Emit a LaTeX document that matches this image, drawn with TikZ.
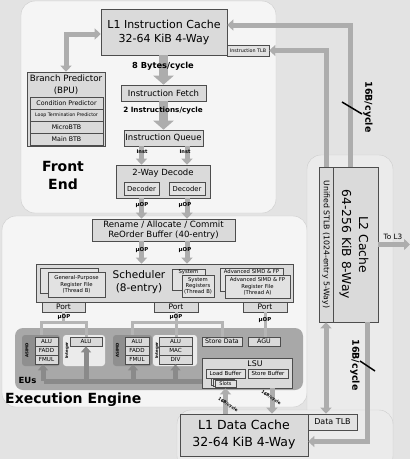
\documentclass[tikz,border=0pt]{standalone}
\usepackage{fontspec}
\setmainfont{DejaVu Sans}
\usetikzlibrary{arrows.meta,calc}
\definecolor{bgc}{HTML}{E3E3E3}
\definecolor{panel}{HTML}{F5F5F5}
\definecolor{rpanel}{HTML}{EBEBEB}
\definecolor{panelln}{HTML}{CCCCCC}
\definecolor{boxf}{HTML}{DADADA}
\definecolor{rff}{HTML}{E2E2E2}
\definecolor{boxd}{HTML}{4D4D4D}
\definecolor{arr}{HTML}{ADADAD}
\definecolor{brk}{HTML}{B5B5B5}
\definecolor{eup}{HTML}{A8A8A8}
\definecolor{asimdp}{HTML}{8F8F8F}
\definecolor{intp}{HTML}{EBEBEB}
\definecolor{busc}{HTML}{8A8A8A}
\newcommand\fsz[2]{\fontsize{#1}{#2}\selectfont}
\begin{document}
\begin{tikzpicture}[x=1pt,y=-1pt,
 box/.style={draw=boxd, fill=boxf, line width=0.6pt, inner sep=0pt, align=center},
 rfbox/.style={box, fill=rff, font=\fsz{5.3}{6.3}},
 unit/.style={box, minimum height=9pt, font=\fsz{5.6}{6}},
 grp/.style={inner sep=0pt, rounded corners=3pt},
 txt/.style={inner sep=0pt, align=center},
 lbl/.style={txt, font=\bfseries\fsz{5.4}{6}},
 bigarrow/.style={draw=arr, line width=9pt, -{Triangle[width=20pt,length=9pt]}},
 midarrow/.style={draw=arr, line width=5pt, -{Triangle[width=11pt,length=6pt]}},
 dblarrow/.style={draw=arr, line width=5pt, {Triangle[width=11pt,length=6pt]}-{Triangle[width=11pt,length=6pt]}},
 bline/.style={draw=brk, line width=3pt},
 busline/.style={draw=busc, line width=5pt},
 busarrow/.style={draw=busc, line width=5pt, -{Triangle[width=10pt,length=6pt]}},
 slash/.style={draw=black, line width=1.5pt},
]
\useasboundingbox (0,0) rectangle (410,459);
% background and panels
\fill[bgc] (0,0) rectangle (410,459);
\draw[panelln, fill=panel, rounded corners=14pt] (21,1) rectangle (276,213);
\draw[panelln, fill=panel, rounded corners=14pt] (2,216) rectangle (307,407);
\draw[panelln, fill=rpanel, rounded corners=14pt] (307,155) rectangle (393,452);
\draw[panelln, fill=rpanel, rounded corners=14pt] (177,410) rectangle (393,470);

% ---------------- Front end ----------------
\node[box, minimum width=126pt, minimum height=46pt, font=\fsz{11}{14}] (l1i) at (164,32) {L1 Instruction Cache\\32-64 KiB 4-Way};
\node[box, fill=rff, minimum width=42pt, minimum height=11pt, font=\fsz{4.8}{5}] (itlb) at (248,50.5) {Instruction TLB};

\node[box, minimum width=78pt, minimum height=74pt] (bpu) at (66,109) {};
\node[txt, font=\fsz{8.7}{12}] (bput) at (66,85) {Branch Predictor\\(BPU)};
\node[box, minimum width=73pt, minimum height=12pt, font=\fsz{6.3}{7}] (cp) at (66.5,103) {Condition Predictor};
\node[box, minimum width=73pt, minimum height=12pt, font=\fsz{4.7}{5}] (ltp) at (66.5,115) {Loop Termination Predictor};
\node[box, minimum width=73pt, minimum height=12pt, font=\fsz{6.3}{7}] (mbtb) at (66.5,127) {MicroBTB};
\node[box, minimum width=73pt, minimum height=12pt, font=\fsz{6.3}{7}] (mainbtb) at (66.5,139) {Main BTB};

\node[box, minimum width=85pt, minimum height=16pt, font=\fsz{8.5}{10}] (ifetch) at (163.5,93) {Instruction Fetch};
\node[box, minimum width=79pt, minimum height=16pt, font=\fsz{8.5}{10}] (iq) at (163.5,138) {Instruction Queue};
\node[box, minimum width=94pt, minimum height=33pt] (dec) at (163,181.5) {};
\node[txt, font=\fsz{8.5}{10}] (dect) at (163,173.5) {2-Way Decode};
\node[box, fill=rff, minimum width=35pt, minimum height=13pt, font=\fsz{6.8}{8}] (d1) at (141.5,188.5) {Decoder};
\node[box, fill=rff, minimum width=36pt, minimum height=13pt, font=\fsz{6.8}{8}] (d2) at (187,188.5) {Decoder};
\node[txt, font=\bfseries\fsz{14}{18}] (fe) at (63,175) {Front\\End};

% ---------------- Execution engine ----------------
\node[box, minimum width=143pt, minimum height=22pt, font=\fsz{8.6}{10.5}] (ren) at (163.5,230) {Rename / Allocate / Commit\\ReOrder Buffer (40-entry)};
\node[box, minimum width=257pt, minimum height=38pt] (sch) at (164.5,283) {};
\node[txt, font=\fsz{10.5}{13}] (scht) at (139,282.5) {Scheduler\\(8-entry)};
\node[rfbox, minimum width=58pt, minimum height=25pt] (gpa) at (69,280.5) {};
\node[rfbox, minimum width=57pt, minimum height=25pt] (gpb) at (76.5,284.5) {General-Purpose\\Register File\\(Thread B)};
\node[rfbox, minimum width=33pt, minimum height=21pt] (sysa) at (188.5,279.5) {};
\node[txt, font=\fsz{5.3}{6.3}] (sysat) at (188.5,272) {System};
\node[rfbox, minimum width=32pt, minimum height=22pt] (sysb) at (198,286) {System\\Registers\\(Thread B)};
\node[rfbox, minimum width=63pt, minimum height=23pt] (simdb) at (251.5,279.5) {};
\node[txt, font=\fsz{5.3}{6.3}] (simdbt) at (251.5,271.5) {Advanced SIMD \& FP};
\node[rfbox, minimum width=65pt, minimum height=23pt] (simda) at (257.5,286.5) {Advanced SIMD \& FP\\Register File\\(Thread A)};

\node[box, minimum width=43pt, minimum height=10pt, font=\fsz{7.5}{8}] (p1) at (63.5,307) {Port};
\node[box, minimum width=44pt, minimum height=10pt, font=\fsz{7.5}{8}] (p2) at (176,307) {Port};
\node[box, minimum width=44pt, minimum height=10pt, font=\fsz{7.5}{8}] (p3) at (265,307) {Port};

% EU panel
\node[fill=eup, rounded corners=8pt, inner sep=0pt, minimum width=288pt, minimum height=62pt] (eus) at (159,359) {};
\node[grp, fill=asimdp, minimum width=38pt, minimum height=31pt] (g1) at (41,350.5) {};
\node[grp, fill=intp, minimum width=42pt, minimum height=31pt] (g2) at (84,350.5) {};
\node[grp, fill=asimdp, minimum width=39pt, minimum height=31pt] (g3) at (132.5,350.5) {};
\node[grp, fill=intp, minimum width=44pt, minimum height=31pt] (g4) at (175,350.5) {};
\node[txt, rotate=90, font=\bfseries\fsz{4}{4}] (g1t) at (27,350.5) {ASIMD};
\node[txt, rotate=90, font=\bfseries\fsz{4}{4}] (g2t) at (67,350.5) {Integer};
\node[txt, rotate=90, font=\bfseries\fsz{4}{4}] (g3t) at (117.5,350.5) {ASIMD};
\node[txt, rotate=90, font=\bfseries\fsz{4}{4}] (g4t) at (157,350.5) {Integer};

\node[unit, minimum width=23pt] (alu1) at (46.5,341.5) {ALU};
\node[unit, minimum width=23pt] (fadd1) at (46.5,350.5) {FADD};
\node[unit, minimum width=23pt] (fmul1) at (46.5,359.5) {FMUL};
\node[unit, minimum width=32pt] (ialu1) at (86,341.5) {ALU};
\node[unit, minimum width=24pt] (alu3) at (137,341.5) {ALU};
\node[unit, minimum width=24pt] (fadd3) at (137,350.5) {FADD};
\node[unit, minimum width=24pt] (fmul3) at (137,359.5) {FMUL};
\node[unit, minimum width=33pt] (ialu4) at (175.5,341.5) {ALU};
\node[unit, minimum width=33pt] (mac4) at (175.5,350.5) {MAC};
\node[unit, minimum width=33pt] (div4) at (175.5,359.5) {DIV};
\node[unit, minimum width=40pt, font=\fsz{6.3}{7}] (sd) at (222,341.5) {Store Data};
\node[unit, minimum width=32pt, font=\fsz{6.3}{7}] (agu) at (264,341.5) {AGU};

\node[box, minimum width=90pt, minimum height=30pt] (lsu) at (247,373) {};
\node[txt, font=\fsz{7.8}{8}] (lsut) at (255,363.5) {LSU};
\node[box, fill=rff, minimum width=39pt, minimum height=9pt, font=\fsz{5.5}{6}] (lb) at (225.5,373.5) {Load Buffer};
\node[box, fill=rff, minimum width=40pt, minimum height=9pt, font=\fsz{5.5}{6}] (sb) at (268,373.5) {Store Buffer};
\node[box, fill=rff, minimum width=21pt, minimum height=7pt] (slc) at (221.5,381.5) {};
\node[box, fill=rff, minimum width=21pt, minimum height=7pt] (slb) at (223.5,382.5) {};
\node[box, fill=rff, minimum width=21pt, minimum height=7pt, font=\fsz{5}{5}] (sla) at (225.5,383.5) {Slots};
\node[txt, font=\bfseries\fsz{8.5}{9}] (eut) at (27.5,380.5) {EUs};
\node[txt, anchor=west, font=\bfseries\fsz{14}{16}] (ee) at (5,400) {Execution Engine};

% ---------------- L2 / L1D ----------------
\node[box, minimum width=45pt, minimum height=155pt] (l2) at (355.5,244.5) {};
\node[box, minimum width=14pt, minimum height=155pt] (stlb) at (326,244.5) {};
\node[txt, rotate=-90, font=\fsz{12.3}{17}] (l2t) at (354,244.5) {L2 Cache\\64-256 KiB 8-Way};
\node[txt, rotate=-90, font=\fsz{7.8}{9}] (stlbt) at (326,244.5) {Unified STLB (1024-entry 5-Way)};
\node[box, fill=rff, minimum width=49pt, minimum height=16pt, font=\fsz{8}{9}] (dtlb) at (332.5,422) {Data TLB};
\node[box, minimum width=128pt, minimum height=42pt, font=\fsz{12.5}{17}] (l1d) at (244,435) {L1 Data Cache\\32-64 KiB 4-Way};
\coordinate (tol3) at (410,244.5);

% ---------------- connectors ----------------
\draw[bigarrow] (l1i.south -| ifetch.north) -- (ifetch.north);
\draw[bigarrow] (ifetch.south) -- (iq.north);
\draw[midarrow] (iq.south -| d1.north) -- (dec.north -| d1.north);
\draw[midarrow] (iq.south -| d2.north) -- (dec.north -| d2.north);
\draw[midarrow] (dec.south -| d1.north) -- (ren.north -| d1.north);
\draw[midarrow] (dec.south -| d2.north) -- (ren.north -| d2.north);
\draw[midarrow] (ren.south -| d1.north) -- (sch.north -| d1.north);
\draw[midarrow] (ren.south -| d2.north) -- (sch.north -| d2.north);
\draw[dblarrow] (bpu.north) |- ([yshift=-2pt]l1i.west);
\draw[midarrow] ([xshift=-5.5pt]l2.north) |- ([yshift=7pt]l1i.east);
\draw[midarrow] (stlb.north) |- (itlb.east);
\draw[midarrow] ([xshift=11.5pt]l2.south) |- ([yshift=-6.5pt]l1d.east);
\draw[dblarrow] (stlb.south) -- (stlb.south |- dtlb.north);
\draw[midarrow] (l2.east) -- (tol3);
\draw[midarrow] (l1d.north -| lb.south) -- (lsu.south -| lb.south);
\draw[midarrow] ([xshift=4pt]lsu.south -| sb.south) -- ([xshift=4pt]l1d.north -| sb.south);

% issue tree
\draw[bline] (p1.south) -- (p1.south |- 0,323);
\draw[bline] (g1.north) -- ++(0,-12) -| (ialu1.north);
\draw[bline] (p2.south) -- (p2.south |- ialu4.north);
\draw[bline] (g3.north) -- ++(0,-12) -| (sd.north);
\draw[bline] (p3.south) -- (p3.south |- agu.north);
% result bus
\coordinate (busr) at (lsu.west |- 0,381);
\draw[busline] (busr) -- ([xshift=-2.5pt]fmul1.south |- busr);
\draw[busarrow] ([xshift=-3.5pt]fmul1.south |- busr) -- ([xshift=-3.5pt]fmul1.south);
\draw[busarrow] (ialu1.south |- busr) -- (ialu1.south);
\draw[busarrow] ([xshift=-4pt]fmul3.south |- busr) -- ([xshift=-4pt]fmul3.south);
\draw[busarrow] (div4.south |- busr) -- (div4.south);

% bandwidth slashes
\draw[slash] (342,102) -- (362,114);
\draw[slash] (360,361) -- (375,371);

% ---------------- labels over connectors ----------------
\node[txt, font=\bfseries\fsz{8.3}{9}] (bpc) at (163,66) {8 Bytes/cycle};
\node[txt, font=\bfseries\fsz{7.2}{8}] (ipc) at (163,111) {2 Instructions/cycle};
\node[lbl, font=\bfseries\fsz{5}{5}] at (142,152) {Inst};
\node[lbl, font=\bfseries\fsz{5}{5}] at (185,152) {Inst};
\node[lbl] at (142,205) {μOP};
\node[lbl] at (185,205) {μOP};
\node[lbl] at (142,250) {μOP};
\node[lbl] at (185,250) {μOP};
\node[lbl] at (64,317) {μOP};
\node[lbl] at (176,317) {μOP};
\node[lbl] at (265,320) {μOP};
\node[txt, font=\fsz{7.3}{8}] at (393,237) {To L3};
\node[txt, rotate=-90, font=\bfseries\fsz{9.5}{10}] at (368,107) {16B/cycle};
\node[txt, rotate=-90, font=\bfseries\fsz{9.5}{10}] at (355,365) {16B/cycle};
\node[txt, rotate=-34, font=\bfseries\fsz{4.2}{5}] at (228,405) {16B/cycle};
\node[txt, rotate=-34, font=\bfseries\fsz{4.2}{5}] at (271,398) {16B/cycle};
\end{tikzpicture}
\end{document}
